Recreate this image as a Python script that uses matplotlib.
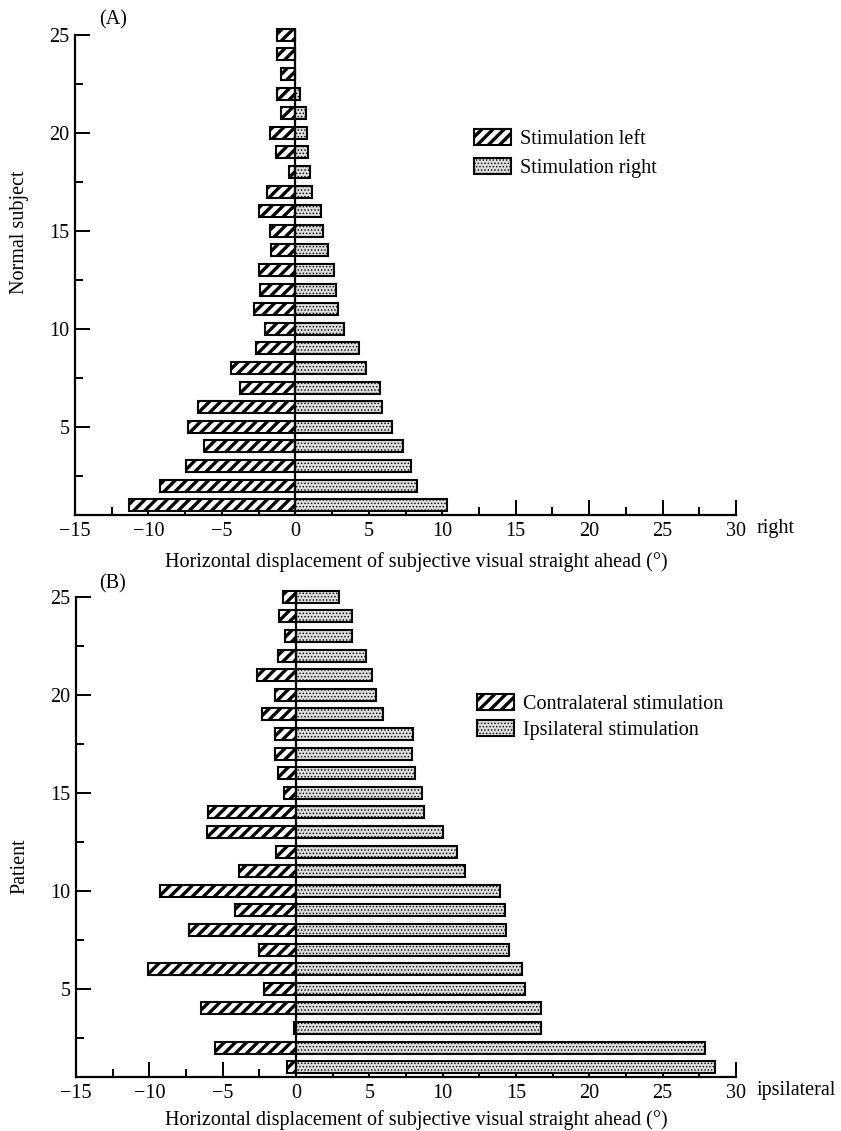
import matplotlib
matplotlib.use("Agg")
import matplotlib.pyplot as plt
from matplotlib.ticker import MultipleLocator
import numpy as np

plt.rcParams['font.family'] = ['Liberation Serif', 'DejaVu Serif']
plt.rcParams['hatch.linewidth'] = 2.0

# Panel A: normal subjects 1..25
subjects_a = list(range(1, 26))
stim_left = [-11.3, -9.2, -7.45, -6.2, -7.3, -6.6, -3.75, -4.35, -2.7, -2.05,
             -2.8, -2.4, -2.5, -1.65, -1.75, -2.5, -1.95, -0.45, -1.3, -1.75,
             -0.95, -1.25, -0.95, -1.25, -1.25]
stim_right = [10.3, 8.3, 7.85, 7.35, 6.6, 5.9, 5.75, 4.8, 4.35, 3.3,
              2.9, 2.8, 2.65, 2.2, 1.9, 1.75, 1.15, 1.0, 0.85, 0.8,
              0.75, 0.3, 0.0, 0.0, 0.0]

# Panel B: patients 1..25
patients_b = list(range(1, 26))
contra = [-0.6, -5.55, -0.15, -6.45, -2.2, -10.1, -2.5, -7.3, -4.15, -9.3,
          -3.9, -1.35, -6.1, -6.0, -0.85, -1.25, -1.4, -1.4, -2.35, -1.4,
          -2.65, -1.25, -0.75, -1.15, -0.9]
ipsi = [28.6, 27.9, 16.7, 16.7, 15.6, 15.4, 14.55, 14.3, 14.25, 13.9,
        11.5, 10.95, 10.05, 8.7, 8.6, 8.1, 7.9, 7.95, 5.9, 5.45,
        5.2, 4.8, 3.85, 3.8, 2.95]

x_ticks = [-15, -10, -5, 0, 5, 10, 15, 20, 25, 30]
y_ticks = [5, 10, 15, 20, 25]

W, H = 841, 1131
fig = plt.figure(figsize=(W / 100, H / 100), dpi=100)

def fx(px):
    return px / W

def fy(py):
    return 1 - py / H

FS = 14.5
bar_h = 0.62
STRIPE_LW = 2.4
DOT_LW = 0.6

def set_hlw(p, lw):
    if hasattr(p, 'set_hatch_linewidth'):
        p.set_hatch_linewidth(lw)

def panel(ax, ys, left, right, labels):
    b1 = ax.barh(ys, left, height=bar_h, left=0, facecolor='white', edgecolor='black',
                 hatch='///', linewidth=1.5, label=labels[0], zorder=2)
    b2 = ax.barh(ys, right, height=bar_h, left=0, facecolor='#dcdcdc', edgecolor='black',
                 hatch='.....', linewidth=1.5, label=labels[1], zorder=2)
    for p in b1:
        set_hlw(p, STRIPE_LW)
    for p in b2:
        set_hlw(p, DOT_LW)
    ax.vlines(0, 0.5, max(ys) + bar_h / 2, color='black', linewidth=1.6, zorder=3)
    ax.set_xlim(-15, 30)
    ax.set_ylim(0.5, 25.5)
    for s in ['top', 'right']:
        ax.spines[s].set_visible(False)
    ax.spines['left'].set_bounds(0.5, 25)
    ax.spines['bottom'].set_bounds(-15, 30)
    for s in ['left', 'bottom']:
        ax.spines[s].set_linewidth(1.6)
    ax.set_xticks(x_ticks)
    ax.set_xticklabels([('\u2212%d' % -t) if t < 0 else str(t) for t in x_ticks])
    ax.xaxis.set_minor_locator(MultipleLocator(2.5))
    ax.set_yticks(y_ticks)
    ax.yaxis.set_minor_locator(MultipleLocator(2.5))
    ax.tick_params(which='major', direction='in', length=11, width=1.4,
                   labelsize=FS, pad=5)
    ax.tick_params(which='minor', direction='in', length=6, width=1.4)
    ax.tick_params(axis='y', which='both', pad=4)

def add_legend(ax, anchor, spacing):
    leg = ax.legend(loc='upper left', bbox_to_anchor=anchor,
                    bbox_transform=fig.transFigure, frameon=False, fontsize=FS,
                    handlelength=1.85, handleheight=0.85, handletextpad=0.45,
                    labelspacing=spacing, borderaxespad=0, borderpad=0)
    handles = leg.legend_handles if hasattr(leg, 'legend_handles') else leg.legendHandles
    set_hlw(handles[0], STRIPE_LW)
    set_hlw(handles[1], DOT_LW)

# Panel A
axA = fig.add_axes([fx(75), fy(515), fx(736) - fx(75), fy(25) - fy(515)])
panel(axA, subjects_a, stim_left, stim_right,
      ['Stimulation left', 'Stimulation right'])
fig.text(fx(99), fy(20), '(A)', fontsize=FS, ha='left', va='center')
add_legend(axA, (fx(474), fy(129)), 0.45)
fig.text(fx(757), fy(529), 'right', fontsize=FS, ha='left', va='center')

# Panel B
axB = fig.add_axes([fx(76), fy(1077), fx(736) - fx(76), fy(587) - fy(1077)])
panel(axB, patients_b, contra, ipsi,
      ['Contralateral stimulation', 'Ipsilateral stimulation'])
fig.text(fx(99), fy(584), '(B)', fontsize=FS, ha='left', va='center')
add_legend(axB, (fx(477), fy(694)), 0.3)
fig.text(fx(757), fy(1091), 'ipsilateral', fontsize=FS, ha='left', va='center')

xlabel = 'Horizontal displacement of subjective visual straight ahead (\u00b0)'
fig.text(fx(416), fy(562), xlabel, fontsize=FS, ha='center', va='center')
fig.text(fx(416), fy(1120), xlabel, fontsize=FS, ha='center', va='center')
fig.text(fx(20), fy(232), 'Normal subject', fontsize=FS, rotation=90, ha='center', va='center')
fig.text(fx(20), fy(866), 'Patient', fontsize=FS, rotation=90, ha='center', va='center')

fig.savefig('out.png', dpi=100)
